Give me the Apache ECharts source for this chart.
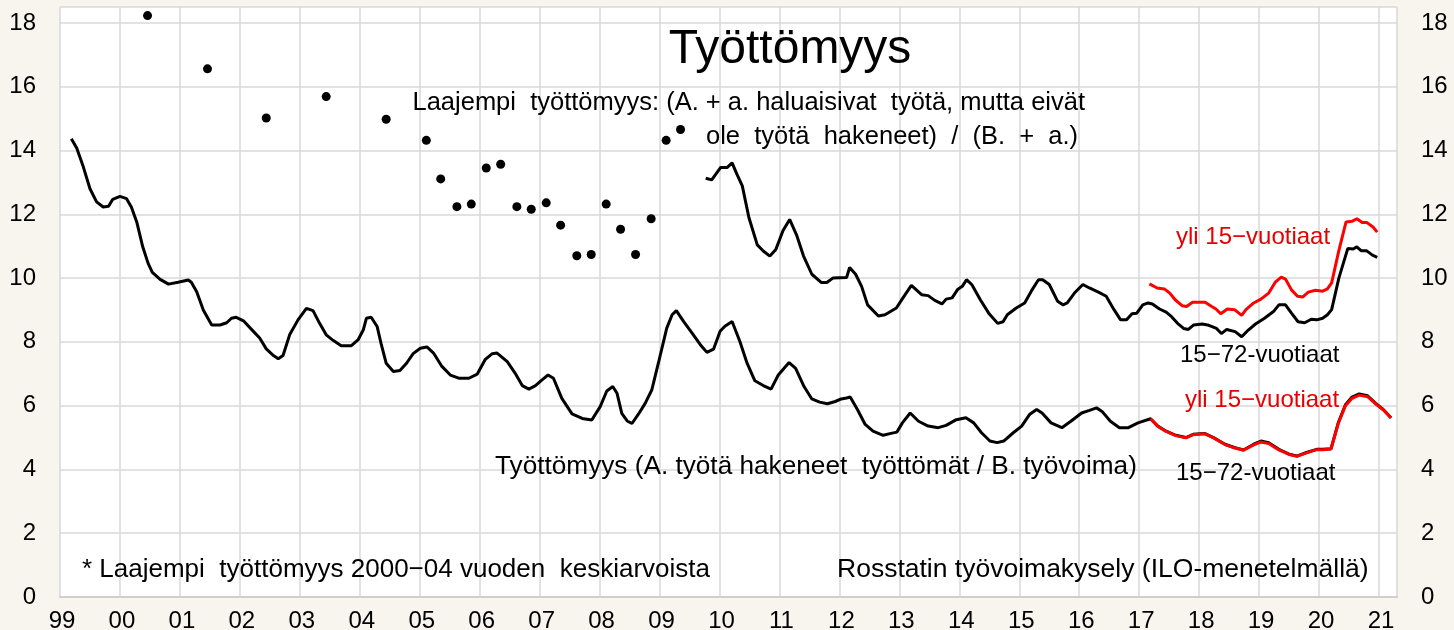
<!DOCTYPE html>
<html><head><meta charset="utf-8">
<script src="https://cdn.jsdelivr.net/npm/echarts@6/dist/echarts.min.js"></script>
<style>html,body{margin:0;padding:0;background:#f8f4ee}#c{width:1454px;height:630px}</style>
</head><body><div id="c"></div>
<script>
// x = decimal year, y = percent
const tyottomyys1572 = [[1999.19,14.37],[1999.28,14.07],[1999.39,13.48],[1999.5,12.8],[1999.61,12.39],[1999.72,12.23],[1999.81,12.25],[1999.88,12.47],[2000.0,12.56],[2000.11,12.49],[2000.19,12.23],[2000.28,11.76],[2000.38,10.98],[2000.47,10.46],[2000.54,10.18],[2000.67,9.96],[2000.81,9.81],[2000.97,9.87],[2001.14,9.94],[2001.19,9.87],[2001.28,9.57],[2001.39,9.0],[2001.53,8.53],[2001.67,8.53],[2001.78,8.6],[2001.86,8.74],[2001.94,8.77],[2002.06,8.66],[2002.19,8.4],[2002.33,8.12],[2002.44,7.78],[2002.56,7.57],[2002.64,7.47],[2002.72,7.57],[2002.83,8.22],[2002.97,8.69],[2003.11,9.05],[2003.22,8.98],[2003.33,8.58],[2003.44,8.22],[2003.56,8.04],[2003.69,7.88],[2003.86,7.88],[2003.97,8.06],[2004.06,8.38],[2004.11,8.74],[2004.19,8.77],[2004.29,8.48],[2004.36,7.91],[2004.44,7.33],[2004.56,7.07],[2004.67,7.1],[2004.78,7.33],[2004.89,7.63],
[2005.01,7.80],[2005.12,7.84],[2005.23,7.65],[2005.37,7.23],[2005.51,6.96],[2005.65,6.86],[2005.82,6.86],[2005.96,6.99],[2006.09,7.44],[2006.21,7.63],[2006.29,7.65],[2006.46,7.38],[2006.59,7.02],[2006.71,6.63],[2006.82,6.52],[2006.93,6.63],[2007.04,6.81],[2007.14,6.96],[2007.23,6.86],[2007.37,6.23],[2007.54,5.74],[2007.71,5.6],[2007.87,5.55],[2008.01,5.97],[2008.12,6.46],[2008.22,6.6],[2008.29,6.39],[2008.37,5.76],[2008.46,5.52],[2008.54,5.44],[2008.65,5.74],[2008.76,6.07],[2008.87,6.49],[2008.98,7.33],[2009.12,8.43],[2009.21,8.85],[2009.28,8.98],[2009.4,8.64],[2009.54,8.28],[2009.68,7.91],[2009.79,7.67],[2009.9,7.77],[2010.01,8.33],[2010.09,8.49],[2010.21,8.64],[2010.34,8.01],[2010.46,7.33],[2010.59,6.78],[2010.73,6.63],[2010.86,6.52],[2010.98,6.96],
[2011.16,7.35],[2011.27,7.17],[2011.41,6.6],[2011.54,6.21],[2011.67,6.11],[2011.8,6.06],[2011.93,6.13],[2012.03,6.21],[2012.12,6.24],[2012.18,6.27],[2012.3,5.88],[2012.43,5.41],[2012.56,5.2],[2012.73,5.07],[2012.86,5.13],[2012.96,5.17],[2013.05,5.46],[2013.18,5.77],[2013.32,5.51],[2013.48,5.36],[2013.65,5.31],[2013.78,5.38],[2013.95,5.56],[2014.11,5.62],[2014.24,5.46],[2014.37,5.15],[2014.51,4.89],[2014.63,4.84],[2014.74,4.89],[2014.9,5.15],[2015.04,5.36],[2015.17,5.72],[2015.29,5.88],[2015.38,5.77],[2015.53,5.46],[2015.71,5.31],[2015.86,5.51],[2016.04,5.77],[2016.17,5.85],[2016.29,5.93],[2016.38,5.82],[2016.52,5.51],[2016.67,5.31],[2016.82,5.31],[2016.98,5.46],[2017.19,5.59],[2017.31,5.36],[2017.45,5.2],[2017.61,5.07],[2017.78,5.0],[2017.9,5.1],[2018.09,5.13],[2018.24,5.0],[2018.43,4.79],[2018.6,4.68],[2018.74,4.61],[2018.91,4.79],[2019.03,4.89],[2019.16,4.84],[2019.33,4.63],[2019.5,4.48],[2019.63,4.42],[2019.79,4.53],[2019.96,4.63],[2020.06,4.63],[2020.2,4.65],[2020.32,5.46],[2020.44,6.03],[2020.55,6.27],[2020.67,6.37],[2020.81,6.31],[2020.94,6.08],[2021.07,5.88],[2021.2,5.62]];

const tyottomyysYli15 = [[2017.19,5.59],[2017.31,5.35],[2017.45,5.19],[2017.61,5.06],[2017.78,4.99],[2017.9,5.09],[2018.09,5.12],[2018.24,4.99],[2018.43,4.78],[2018.6,4.67],[2018.74,4.6],[2018.91,4.77],[2019.03,4.86],[2019.16,4.81],[2019.33,4.61],[2019.5,4.47],[2019.63,4.41],[2019.79,4.52],[2019.96,4.62],[2020.06,4.62],[2020.2,4.64],[2020.32,5.44],[2020.44,6.0],[2020.55,6.23],[2020.67,6.33],[2020.81,6.28],[2020.94,6.06],[2021.07,5.87],[2021.2,5.61]];

const laajempi1572 = [[2009.77,13.13],[2009.87,13.08],[2010.02,13.47],[2010.13,13.47],[2010.21,13.61],[2010.29,13.26],[2010.38,12.89],[2010.49,11.9],[2010.63,11.04],[2010.73,10.85],[2010.84,10.69],[2010.94,10.9],[2011.06,11.49],[2011.17,11.84],[2011.29,11.33],[2011.4,10.70],[2011.54,10.12],[2011.7,9.86],[2011.79,9.86],[2011.89,10.0],[2012.12,10.02],[2012.17,10.33],[2012.27,10.12],[2012.37,9.74],[2012.47,9.16],[2012.65,8.81],[2012.76,8.85],[2012.95,9.06],[2013.06,9.38],[2013.2,9.77],[2013.37,9.48],[2013.48,9.45],[2013.59,9.3],[2013.71,9.19],[2013.78,9.34],[2013.88,9.38],[2013.97,9.64],[2014.05,9.74],[2014.12,9.95],[2014.21,9.79],[2014.35,9.32],[2014.49,8.9],[2014.64,8.58],[2014.73,8.63],[2014.8,8.85],[2014.95,9.06],[2015.09,9.22],[2015.2,9.59],[2015.32,9.95],[2015.39,9.95],[2015.5,9.8],[2015.64,9.27],[2015.73,9.16],[2015.8,9.22],[2015.92,9.53],[2016.06,9.8],[2016.17,9.69],[2016.32,9.56],[2016.45,9.43],[2016.58,9.01],[2016.69,8.69],[2016.79,8.69],[2016.88,8.88],[2016.96,8.9],[2017.06,9.16],[2017.15,9.22],[2017.22,9.19],[2017.34,9.03],[2017.45,8.93],[2017.54,8.79],[2017.64,8.58],[2017.74,8.42],[2017.82,8.39],[2017.91,8.53],[2018.05,8.56],[2018.14,8.53],[2018.29,8.42],[2018.37,8.26],[2018.46,8.39],[2018.6,8.32],[2018.71,8.16],[2018.82,8.37],[2018.94,8.56],[2019.09,8.74],[2019.24,8.95],[2019.33,9.16],[2019.44,9.16],[2019.54,8.9],[2019.65,8.63],[2019.76,8.60],[2019.87,8.71],[2019.96,8.69],[2020.06,8.74],[2020.14,8.85],[2020.21,9.01],[2020.33,10.0],[2020.48,10.93],[2020.57,10.91],[2020.63,10.98],[2020.7,10.86],[2020.79,10.86],[2020.89,10.72],[2020.97,10.65]];

const laajempiYli15 = [[2017.17,9.82],[2017.3,9.69],[2017.42,9.66],[2017.51,9.53],[2017.6,9.32],[2017.72,9.13],[2017.79,9.11],[2017.89,9.24],[2018.1,9.24],[2018.21,9.11],[2018.28,9.03],[2018.36,8.88],[2018.47,9.03],[2018.59,9.01],[2018.71,8.83],[2018.78,9.01],[2018.91,9.22],[2019.03,9.34],[2019.16,9.53],[2019.27,9.87],[2019.37,10.03],[2019.44,9.97],[2019.54,9.63],[2019.64,9.43],[2019.73,9.41],[2019.82,9.56],[2019.94,9.62],[2020.06,9.59],[2020.14,9.66],[2020.21,9.85],[2020.33,10.86],[2020.45,11.76],[2020.55,11.78],[2020.63,11.86],[2020.72,11.74],[2020.8,11.74],[2020.9,11.6],[2020.97,11.44]];

const laajempiVuosi = [[2000.46,18.23],[2001.46,16.56],[2002.44,15.02],[2003.44,15.69],[2004.44,14.98]];
const laajempiNeljannes = [[2005.11,14.32],[2005.35,13.11],[2005.62,12.24],[2005.86,12.32],[2006.11,13.45],[2006.35,13.57],[2006.62,12.24],[2006.86,12.16],[2007.11,12.36],[2007.35,11.66],[2007.62,10.70],[2007.86,10.74],[2008.11,12.32],[2008.35,11.53],[2008.6,10.74],[2008.86,11.86],[2009.11,14.32],[2009.35,14.66]];

const yTicks = {min: 0, max: 18.5, interval: 2};
const xRange = {min: 1999, max: 2021.3, interval: 1};

const FONT = '"Liberation Sans", Arial, sans-serif';
const chart = echarts.init(document.getElementById('c'));
function txt(x, y, s, opts) {
  opts = opts || {};
  return {type: 'text', x: x, y: y, z: 100,
    style: {text: s, fill: opts.color || '#000', font: (opts.size || 24) + 'px ' + FONT,
      align: opts.align || 'left', textAlign: opts.align || 'left',
      verticalAlign: 'middle', textVerticalAlign: 'middle'}};
}
const yAxisCommon = {
  type: 'value', min: yTicks.min, max: yTicks.max, interval: yTicks.interval,
  axisLine: {show: false}, axisTick: {show: false},
  axisLabel: {showMaxLabel: false, color: '#000', fontSize: 24, fontFamily: FONT, margin: 24}
};
chart.setOption({
  backgroundColor: '#f8f4ee',
  animation: false,
  grid: {left: 60, right: 57, top: 7, bottom: 33, show: true, backgroundColor: '#ffffff', borderWidth: 0,
    containLabel: false, outerBoundsMode: 'none'},
  xAxis: {
    type: 'value', min: xRange.min, max: xRange.max, interval: xRange.interval,
    axisLine: {show: true, lineStyle: {color: '#cfcfcf', width: 2}},
    axisTick: {show: false},
    splitLine: {show: true, lineStyle: {color: '#d9d9d9', width: 1.5}},
    axisLabel: {showMaxLabel: false, color: '#000', fontSize: 24, fontFamily: FONT, margin: 12,
      padding: [0, 0, 0, 4],
      formatter: v => String(Math.round(v) % 100).padStart(2, '0')}
  },
  yAxis: [
    Object.assign({}, yAxisCommon, {position: 'left', splitLine: {show: true, lineStyle: {color: '#d9d9d9', width: 1.5}}}),
    Object.assign({}, yAxisCommon, {position: 'right', splitLine: {show: false}})
  ],
  series: [
    {type: 'line', data: tyottomyys1572, showSymbol: false, lineStyle: {color: '#000', width: 3}, itemStyle: {color: '#000'}, z: 3},
    {type: 'line', data: tyottomyysYli15, showSymbol: false, lineStyle: {color: '#ff0000', width: 3}, itemStyle: {color: '#ff0000'}, z: 4},
    {type: 'line', data: laajempi1572, showSymbol: false, lineStyle: {color: '#000', width: 3}, itemStyle: {color: '#000'}, z: 3},
    {type: 'line', data: laajempiYli15, showSymbol: false, lineStyle: {color: '#ff0000', width: 3}, itemStyle: {color: '#ff0000'}, z: 4},
    {type: 'scatter', data: laajempiVuosi, symbolSize: 9, itemStyle: {color: '#000', opacity: 1}, z: 5},
    {type: 'scatter', data: laajempiNeljannes, symbolSize: 9, itemStyle: {color: '#000', opacity: 1}, z: 5}
  ],
  graphic: [
    txt(790, 50, 'Työttömyys', {size: 48, align: 'center'}),
    txt(1085, 103, 'Laajempi  työttömyys: (A. + a. haluaisivat  työtä, mutta eivät', {size: 25.5, align: 'right'}),
    txt(706, 137, 'ole  työtä  hakeneet)  /  (B.  +  a.)', {size: 25.5}),
    txt(495, 467, 'Työttömyys (A. työtä hakeneet  työttömät / B. työvoima)', {size: 26.2}),
    txt(1176, 237, 'yli 15−vuotiaat', {color: '#e60000'}),
    txt(1180, 355, '15−72-vuotiaat'),
    txt(1185, 400, 'yli 15−vuotiaat', {color: '#e60000'}),
    txt(1176, 473, '15−72-vuotiaat'),
    txt(82, 570, '* Laajempi  työttömyys 2000−04 vuoden  keskiarvoista', {size: 26}),
    txt(837, 570, 'Rosstatin työvoimakysely (ILO-menetelmällä)', {size: 26.5})
  ]
});
</script></body></html>
